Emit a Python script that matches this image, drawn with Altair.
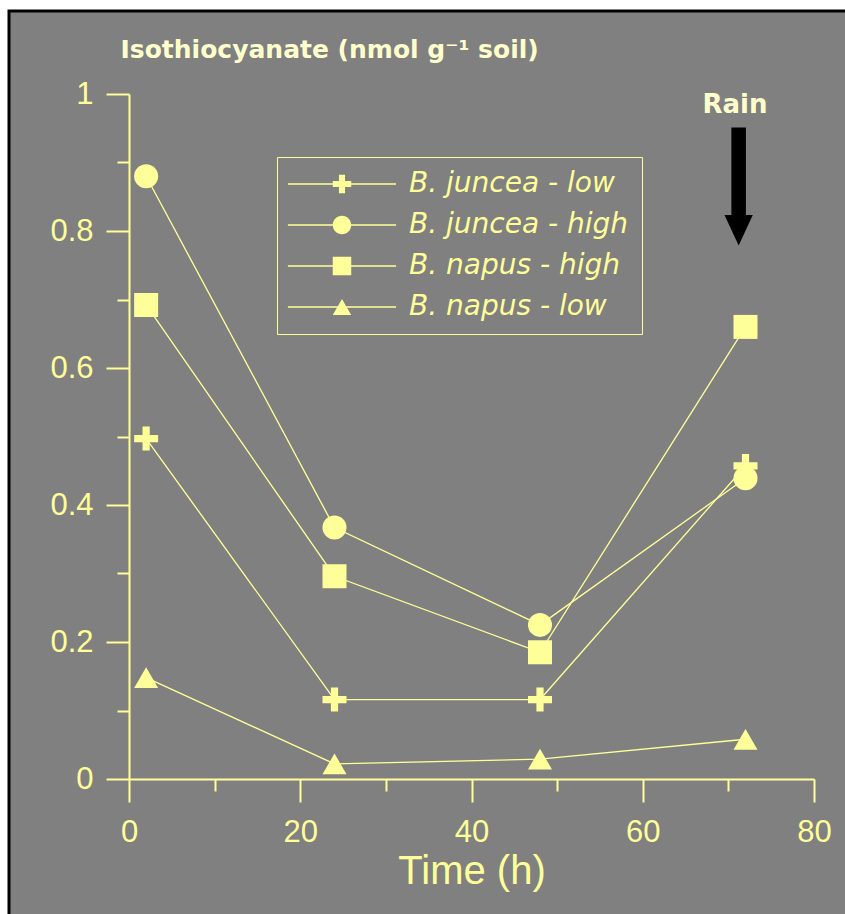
import altair as alt
import pandas as pd

# Sampling times (h) and soil isothiocyanate levels (nmol g-1 soil)
times = [2, 24, 48, 72]
series_names = ["B. juncea - low", "B. juncea - high", "B. napus - high", "B. napus - low"]
juncea_low = [0.497, 0.116, 0.116, 0.457]
juncea_high = [0.880, 0.367, 0.225, 0.439]
napus_high = [0.692, 0.296, 0.185, 0.660]
napus_low = [0.148, 0.022, 0.029, 0.058]

x_major = [0, 20, 40, 60, 80]
x_minor = [10, 30, 50, 70]
y_major = [0, 0.2, 0.4, 0.6, 0.8, 1]
y_minor = [0.1, 0.3, 0.5, 0.7, 0.9]

# Rain event marker (time, shaft top, shaft bottom, arrow-head centre)
rain_time = 71.2
rain_top, rain_bottom, rain_head = 0.951, 0.82, 0.801

YELLOW = "#FFFF99"
PALE = "#FFFFCC"
GRAY = "#808080"
FONT = "Liberation Sans"
WIDE = "DejaVu Sans"

rows = []
for name, vals in zip(series_names, [juncea_low, juncea_high, napus_high, napus_low]):
    for t, v in zip(times, vals):
        rows.append({"time": t, "value": v, "series": name})
df = pd.DataFrame(rows)

xs = alt.Scale(domain=[0, 80], nice=False, zero=False)
ys = alt.Scale(domain=[0, 1], nice=False, zero=False)

PLUS = "M-1,-0.3H-0.3V-1H0.3V-0.3H1V0.3H0.3V1H-0.3V0.3H-1Z"
plot_shapes = [PLUS, "circle", "square", "triangle-up"]

# legend keys: a thin bar (the line) through the marker, drawn by fill only
LINE = "M-5.85,-0.075H5.85V0.075H-5.85Z"
legend_shapes = [
    LINE + "M-1,-0.33H-0.33V-1H0.33V-0.33H1V0.33H0.33V1H-0.33V0.33H-1Z",
    LINE + "M1,0A1,1,0,1,1,-1,0A1,1,0,1,1,1,0Z",
    LINE + "M-1,-1H1V1H-1Z",
    LINE + "M0,-0.866L1,0.866H-1Z",
]

axis_common = dict(
    domainColor=YELLOW, domainWidth=2, tickColor=YELLOW, tickWidth=2, zindex=1,
    grid=False, labelColor=YELLOW, labelFont=FONT, labelFontSize=31, labelFlush=False,
)

x_major_axis = alt.Axis(
    orient="bottom", values=x_major, tickSize=23, labelPadding=15,
    title="Time (h)", titleFont=FONT, titleFontSize=40, titleFontWeight="normal",
    titleColor=YELLOW, titlePadding=4, **axis_common,
)
y_major_axis = alt.Axis(
    orient="left", values=y_major, tickSize=23, labelPadding=13, format="~g",
    **axis_common,
)
x_minor_axis = alt.Axis(
    orient="bottom", values=x_minor, tickSize=12, labels=False, domain=False,
    tickColor=YELLOW, tickWidth=2, grid=False, zindex=1,
)
y_minor_axis = alt.Axis(
    orient="left", values=y_minor, tickSize=12, labels=False, domain=False,
    tickColor=YELLOW, tickWidth=2, grid=False, zindex=1,
)

base = alt.Chart(df)

panel = alt.Chart(pd.DataFrame({"k": [0]})).mark_rect(
    fill=GRAY, stroke="black", strokeWidth=3
).encode(
    x=alt.value(-120), x2=alt.value(780), y=alt.value(-83), y2=alt.value(900)
)

lines = base.mark_line(color=YELLOW, strokeWidth=1.3).encode(
    x=alt.X("time:Q", scale=xs, axis=x_minor_axis, title=None),
    y=alt.Y("value:Q", scale=ys, axis=y_minor_axis, title=None),
    detail="series:N",
)

points = base.mark_point(filled=True, size=576, opacity=1, color=YELLOW).encode(
    x=alt.X("time:Q", scale=xs, axis=x_major_axis),
    y=alt.Y("value:Q", scale=ys, axis=y_major_axis, title=None),
    shape=alt.Shape("series:N", scale=alt.Scale(domain=series_names, range=plot_shapes), legend=None),
)

legend_layer = base.transform_filter("false").mark_point(
    filled=True, color=YELLOW, opacity=1
).encode(
    shape=alt.Shape(
        "series:N",
        title=None,
        scale=alt.Scale(domain=series_names, range=legend_shapes),
        legend=alt.Legend(
            orient="none", legendX=148, legendY=63, padding=13,
            strokeColor=YELLOW,
            symbolSize=342, symbolOffset=38, labelOffset=53,
            labelFont=WIDE, labelFontSize=28, labelFontStyle="italic",
            labelColor=YELLOW, labelLimit=400, rowPadding=13,
            symbolFillColor=YELLOW, symbolStrokeWidth=0, symbolOpacity=1,
        ),
    )
)

arrow_df = pd.DataFrame({"time": [rain_time], "top": [rain_top], "bottom": [rain_bottom], "head": [rain_head]})
shaft = alt.Chart(arrow_df).mark_rule(color="black", strokeWidth=14.5, strokeCap="butt").encode(
    x=alt.X("time:Q", scale=xs, axis=None),
    y=alt.Y("top:Q", scale=ys, axis=None),
    y2="bottom:Q",
)
head = alt.Chart(arrow_df).mark_point(
    shape="M-1,-1.08H1L0,1.08Z", filled=True, color="black", size=800, opacity=1
).encode(
    x=alt.X("time:Q", scale=xs, axis=None),
    y=alt.Y("head:Q", scale=ys, axis=None),
)

rain_label = alt.Chart(pd.DataFrame({"label": ["Rain"]})).mark_text(
    font=WIDE, fontSize=26, fontWeight="bold", color=PALE, align="center", baseline="alphabetic"
).encode(x=alt.value(606), y=alt.value(19), text="label:N")

y_title = alt.Chart(pd.DataFrame({"label": ["Isothiocyanate (nmol g\u207b\u00b9 soil)"]})).mark_text(
    font=WIDE, fontSize=25, fontWeight="bold", color=PALE, align="left", baseline="alphabetic"
).encode(x=alt.value(-8.5), y=alt.value(-36), text="label:N")

chart = alt.layer(
    panel, lines, points, legend_layer, shaft, head, rain_label, y_title
).resolve_scale(
    x="independent", y="independent", shape="independent"
).properties(
    width=685, height=685,
    autosize=alt.AutoSizeParams(type="none"),
    padding={"left": 129, "top": 94, "right": 31, "bottom": 135},
    background="white",
).configure_view(strokeWidth=0)

chart.save("out.html", embed_options={"renderer": "svg", "actions": False})
